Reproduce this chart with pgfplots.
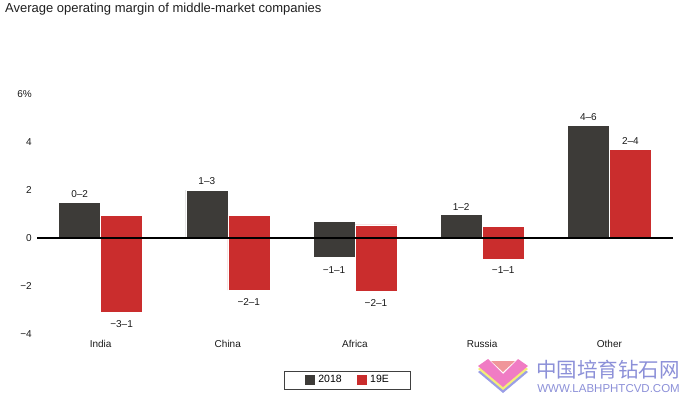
\documentclass[border=0pt]{standalone}
\usepackage{fontspec}
\setmainfont{Liberation Sans}
\newfontfamily\cjk{Noto Sans CJK SC}
\usepackage{pgfplots}
\pgfplotsset{compat=1.18}
\definecolor{darkbar}{HTML}{3D3B38}
\definecolor{redbar}{HTML}{CA2D2D}
\definecolor{wmblue}{HTML}{8C90D8}
\definecolor{wmpink}{HTML}{F07CC4}
\definecolor{wmyellow}{HTML}{F3EE78}
\definecolor{wmsalmon}{HTML}{F0969A}
\definecolor{wmlblue}{HTML}{9A9EE6}
\begin{document}
\begin{tikzpicture}
\begin{scope}[x=1pt,y=-1pt]
\useasboundingbox (0,0) rectangle (679,396);
\node[anchor=base west, inner sep=0pt, font=\fontsize{13}{15}\selectfont, text=black!88] at (5,12.7) {Average operating margin of middle-market companies};
% watermark
\fill[wmlblue] (478,372) -- (488,365) -- (503,380) -- (518,365) -- (528,372) -- (503,393) -- cycle;
\fill[wmyellow] (478,369) -- (488,362) -- (503,377) -- (518,362) -- (528,369) -- (503,390) -- cycle;
\fill[wmpink] (478,366) -- (488,359) -- (503,374) -- (518,359) -- (528,366) -- (503,387) -- cycle;
\fill[wmsalmon] (491,361) -- (515,361) -- (503,372) -- cycle;
\node[anchor=north east, inner sep=0pt, text=wmblue, font=\cjk\fontsize{20.5}{21}\selectfont] at (680,360) {中国培育钻石网};
\node[anchor=base east, inner sep=0pt, text=wmblue, font=\fontsize{11.5}{12}\selectfont] at (680,392.5) {WWW.LABHPHTCVD.COM};
\end{scope}
\begin{axis}[
  at={(37pt,-334pt)}, anchor=south west,
  scale only axis, width=636pt, height=240pt,
  xmin=-0.5, xmax=4.5, ymin=-4, ymax=6,
  axis line style={draw=none},
  major tick length=0pt,
  xtick={0,1,2,3,4}, xticklabels={India,China,Africa,Russia,Other},
  ytick={-4,-2,0,2,4,6}, yticklabels={−4,−2,0,2,4,6\%},
  /pgf/number format/assume math mode=true,
  tick label style={font=\fontsize{10}{12}\selectfont, text=black!90},
  yticklabel style={inner sep=0pt, anchor=east, xshift=-5pt},
  xticklabel style={inner sep=0pt, anchor=north, yshift=-6pt},
  clip=false,
  legend columns=2,
  legend style={at={(axis description cs:0.488,-0.1917)}, anchor=center,
    draw=black!75, line width=0.7pt, inner xsep=20pt, inner ysep=3pt,
    font=\fontsize{10.5}{12}\selectfont,
    nodes={inner sep=1.5pt},
    /tikz/every even column/.append style={column sep=13pt}},
]
\addplot[ybar, bar width=0.33, bar shift=-0.165, fill=darkbar, draw=white, line width=0.5pt,
  legend image code/.code={\path[draw=none, fill=none] (-1pt,-5pt) rectangle (11.5pt,5pt); \fill[darkbar, draw=none] (0pt,-5pt) rectangle (10pt,5pt);}]
  coordinates {(0,1.47) (1,2.0) (2,0.68) (3,0.97) (4,4.7)};
\addlegendentry{2018}
\addplot[ybar, bar width=0.33, bar shift=0.165, fill=redbar, draw=white, line width=0.5pt,
  legend image code/.code={\path[draw=none, fill=none] (-1pt,-5pt) rectangle (11.5pt,5pt); \fill[redbar, draw=none] (0pt,-5pt) rectangle (10pt,5pt);}]
  coordinates {(0,0.95) (1,0.95) (2,0.55) (3,0.48) (4,3.7)};
\addlegendentry{19E}
\addplot[ybar, bar width=0.33, bar shift=-0.165, fill=darkbar, draw=white, line width=0.5pt, forget plot]
  coordinates {(2,-0.82)};
\addplot[ybar, bar width=0.33, bar shift=0.165, fill=redbar, draw=white, line width=0.5pt, forget plot]
  coordinates {(0,-3.1) (1,-2.17) (2,-2.2) (3,-0.87)};
\draw[line width=2.2pt, black] (axis cs:-0.5,0) -- (axis cs:4.5,0);
\begin{scope}[every node/.style={font=\fontsize{10}{12}\selectfont, text=black!90, inner sep=0pt}]
\node[yshift=8.5pt] at (axis cs:-0.165,1.47) {0–2};
\node[yshift=-12pt] at (axis cs:0.165,-3.1) {−3–1};
\node[yshift=8.5pt] at (axis cs:0.835,2.0) {1–3};
\node[yshift=-12pt] at (axis cs:1.165,-2.17) {−2–1};
\node[yshift=-12pt] at (axis cs:1.835,-0.82) {−1–1};
\node[yshift=-12pt] at (axis cs:2.165,-2.2) {−2–1};
\node[yshift=8pt] at (axis cs:2.835,0.97) {1–2};
\node[yshift=-11pt] at (axis cs:3.165,-0.87) {−1–1};
\node[yshift=8pt] at (axis cs:3.835,4.7) {4–6};
\node[yshift=8pt] at (axis cs:4.165,3.7) {2–4};
\end{scope}
\end{axis}
\end{tikzpicture}
\end{document}
